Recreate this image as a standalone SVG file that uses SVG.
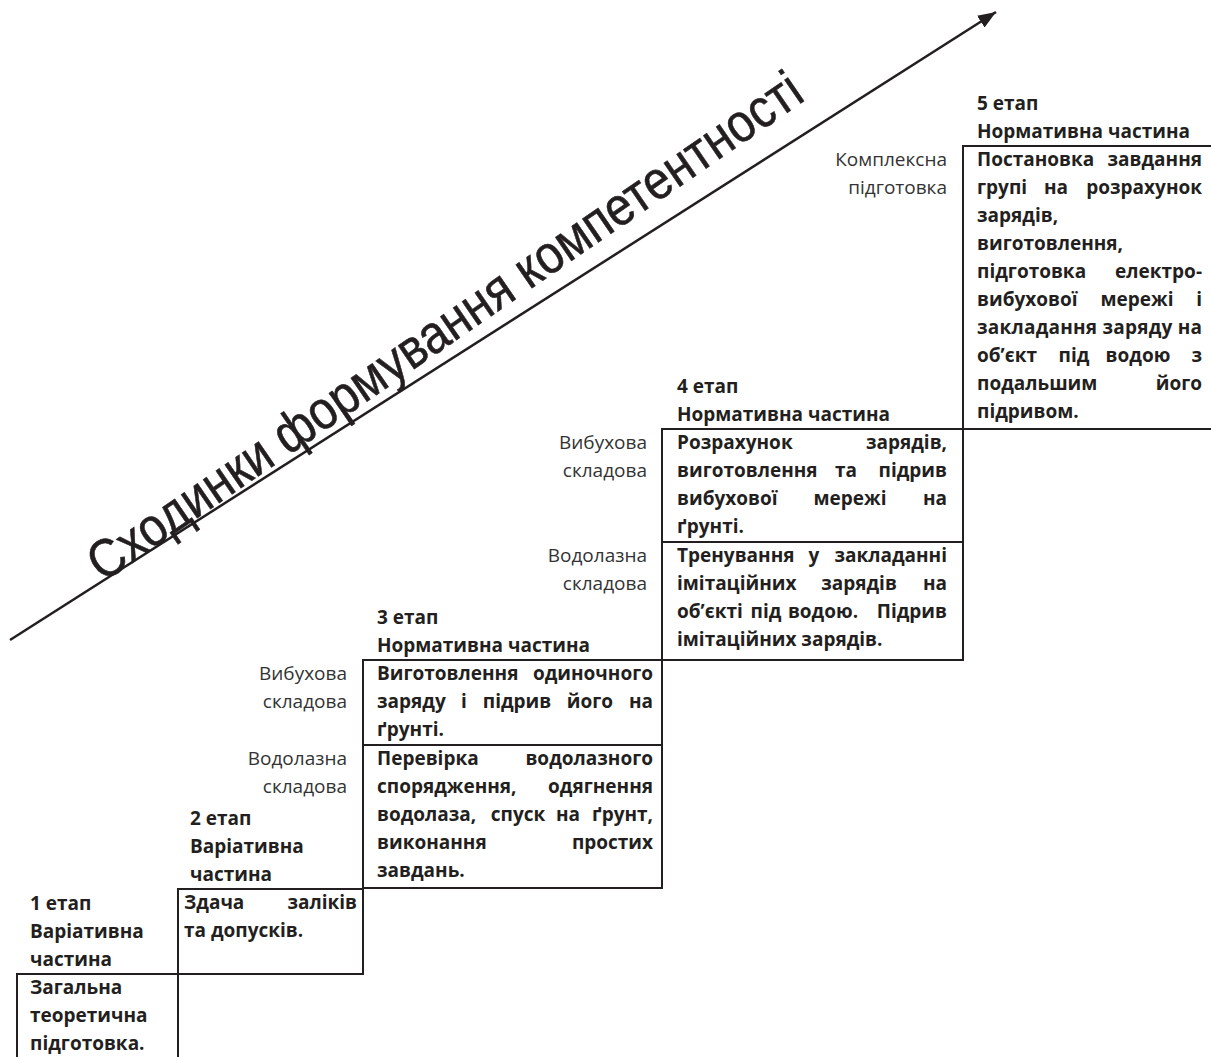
<svg xmlns="http://www.w3.org/2000/svg" width="1211" height="1057" viewBox="0 0 1211 1057">
  <style>
    .box { fill: none; stroke: #231f20; stroke-width: 2; }
    .b { font-family: "Open Sans", "Noto Sans", "Liberation Sans", sans-serif; font-weight: 700; font-size: 19px; fill: #231f20; }
    .r { font-family: "Open Sans", "Noto Sans", "Liberation Sans", sans-serif; font-weight: 400; font-size: 19px; fill: #333333; text-anchor: end; }
    .e { text-anchor: end; }
    .m { text-anchor: middle; }
    .title { font-family: "Liberation Sans", Arial, sans-serif; font-size: 54px; fill: #231f20; stroke: #231f20; stroke-width: 0.6; }
  </style>
  <defs>
    <marker id="head" markerUnits="userSpaceOnUse" markerWidth="20" markerHeight="16" refX="18" refY="7" orient="auto">
      <path d="M0,0 L18,7 L0,14 z" fill="#231f20"/>
    </marker>
  </defs>
  <rect width="1211" height="1057" fill="#ffffff"/>

  <!-- rising arrow and its caption -->
  <g id="connectors">
    <line x1="10" y1="640" x2="996" y2="12" stroke="#231f20" stroke-width="2.5" marker-end="url(#head)"/>
  </g>
  <text class="title" transform="translate(103,583) rotate(-34.5)" textLength="854" lengthAdjust="spacingAndGlyphs">Сходинки формування компетентності</text>

  <!-- stage 1 -->
  <g id="stage1">
    <text class="b" x="30" y="910">1 етап</text>
    <text class="b" x="30" y="938">Варіативна</text>
    <text class="b" x="30" y="966">частина</text>
    <rect class="box" x="17" y="974" width="161" height="100"/>
    <text class="b" x="30" y="994">Загальна</text>
    <text class="b" x="30" y="1022">теоретична</text>
    <text class="b" x="30" y="1050">підготовка.</text>
  </g>

  <!-- stage 2 -->
  <g id="stage2">
    <text class="b" x="190" y="825">2 етап</text>
    <text class="b" x="190" y="853">Варіативна</text>
    <text class="b" x="190" y="881">частина</text>
    <rect class="box" x="178" y="889" width="185" height="85"/>
    <text class="b" x="184" y="909">Здача</text>
    <text class="b e" x="357" y="909">заліків</text>
    <text class="b" x="184" y="937">та допусків.</text>
  </g>

  <!-- stage 3 -->
  <g id="stage3-head">
    <text class="b" x="377" y="624">3 етап</text>
    <text class="b" x="377" y="652">Нормативна частина</text>
  </g>
  <g id="stage3-explosive">
    <text class="r" x="347" y="680">Вибухова</text>
    <text class="r" x="347" y="708">складова</text>
    <rect class="box" x="363" y="660" width="299" height="85"/>
    <text class="b" x="377" y="680">Виготовлення</text>
    <text class="b e" x="653" y="680">одиночного</text>
    <text class="b" x="377" y="708">заряду</text>
    <text class="b m" x="464" y="708">і</text>
    <text class="b m" x="517" y="708">підрив</text>
    <text class="b m" x="590" y="708">його</text>
    <text class="b e" x="653" y="708">на</text>
    <text class="b" x="377" y="736">ґрунті.</text>
  </g>
  <g id="stage3-diving">
    <text class="r" x="347" y="765">Водолазна</text>
    <text class="r" x="347" y="793">складова</text>
    <rect class="box" x="363" y="745" width="299" height="143"/>
    <text class="b" x="377" y="765">Перевірка</text>
    <text class="b e" x="653" y="765">водолазного</text>
    <text class="b" x="377" y="793">спорядження,</text>
    <text class="b e" x="653" y="793">одягнення</text>
    <text class="b" x="377" y="821">водолаза,</text>
    <text class="b m" x="518" y="821">спуск</text>
    <text class="b m" x="568" y="821">на</text>
    <text class="b e" x="653" y="821">ґрунт,</text>
    <text class="b" x="377" y="849">виконання</text>
    <text class="b e" x="653" y="849">простих</text>
    <text class="b" x="377" y="877">завдань.</text>
  </g>

  <!-- stage 4 -->
  <g id="stage4-head">
    <text class="b" x="677" y="393">4 етап</text>
    <text class="b" x="677" y="421">Нормативна частина</text>
  </g>
  <g id="stage4-explosive">
    <text class="r" x="647" y="449">Вибухова</text>
    <text class="r" x="647" y="477">складова</text>
    <rect class="box" x="662" y="429" width="301" height="113"/>
    <text class="b" x="677" y="449">Розрахунок</text>
    <text class="b e" x="947" y="449">зарядів,</text>
    <text class="b" x="677" y="477">виготовлення</text>
    <text class="b m" x="846" y="477">та</text>
    <text class="b e" x="947" y="477">підрив</text>
    <text class="b" x="677" y="505">вибухової</text>
    <text class="b m" x="850" y="505">мережі</text>
    <text class="b e" x="947" y="505">на</text>
    <text class="b" x="677" y="533">ґрунті.</text>
  </g>
  <g id="stage4-diving">
    <text class="r" x="647" y="562">Водолазна</text>
    <text class="r" x="647" y="590">складова</text>
    <rect class="box" x="662" y="542" width="301" height="118"/>
    <text class="b" x="677" y="562">Тренування</text>
    <text class="b m" x="814" y="562">у</text>
    <text class="b e" x="947" y="562">закладанні</text>
    <text class="b" x="677" y="590">імітаційних</text>
    <text class="b m" x="859" y="590">зарядів</text>
    <text class="b e" x="947" y="590">на</text>
    <text class="b" x="677" y="618">об’єкті</text>
    <text class="b m" x="766" y="618">під</text>
    <text class="b m" x="823" y="618">водою.</text>
    <text class="b e" x="947" y="618">Підрив</text>
    <text class="b" x="677" y="646">імітаційних зарядів.</text>
  </g>

  <!-- stage 5 -->
  <g id="stage5">
    <text class="b" x="977" y="110">5 етап</text>
    <text class="b" x="977" y="138">Нормативна частина</text>
    <text class="r" x="947" y="166">Комплексна</text>
    <text class="r" x="947" y="194">підготовка</text>
    <rect class="box" x="963" y="146" width="260" height="283"/>
    <text class="b" x="977" y="166">Постановка</text>
    <text class="b e" x="1202" y="166">завдання</text>
    <text class="b" x="977" y="194">групі</text>
    <text class="b m" x="1056" y="194">на</text>
    <text class="b e" x="1202" y="194">розрахунок</text>
    <text class="b" x="977" y="222">зарядів,</text>
    <text class="b" x="977" y="250">виготовлення,</text>
    <text class="b" x="977" y="278">підготовка</text>
    <text class="b e" x="1202" y="278">електро-</text>
    <text class="b" x="977" y="306">вибухової</text>
    <text class="b m" x="1137" y="306">мережі</text>
    <text class="b e" x="1202" y="306">і</text>
    <text class="b" x="977" y="334" textLength="225" lengthAdjust="spacing">закладання заряду на</text>
    <text class="b" x="977" y="362">об’єкт</text>
    <text class="b m" x="1074" y="362">під</text>
    <text class="b m" x="1138" y="362">водою</text>
    <text class="b e" x="1202" y="362">з</text>
    <text class="b" x="977" y="390">подальшим</text>
    <text class="b e" x="1202" y="390">його</text>
    <text class="b" x="977" y="418">підривом.</text>
  </g>
</svg>
